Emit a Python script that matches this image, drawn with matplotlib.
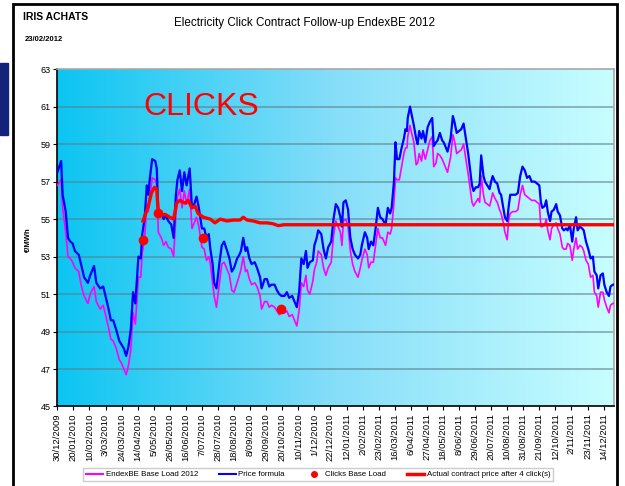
import numpy as np
import matplotlib
matplotlib.use("Agg")
import matplotlib.pyplot as plt
from matplotlib.colors import LinearSegmentedColormap
from matplotlib.lines import Line2D
from matplotlib.patches import Rectangle
from datetime import datetime

plt.rcParams['font.family'] = ['Liberation Sans', 'DejaVu Sans']

# days counted from 30/12/2009
start = np.datetime64('2009-12-30')

day_offsets = [
    0, 5, 7, 11, 14, 17, 20, 23, 28, 31, 35, 40, 43, 48, 51, 56, 60, 63, 67, 70,
    73, 77, 81, 84, 87, 90, 93, 96, 99, 102, 106, 109, 111, 114, 117, 119, 121, 124, 128, 130,
    132, 136, 139, 142, 145, 149, 152, 155, 157, 160, 163, 166, 169, 173, 176, 179, 182, 185,
    189, 192, 195, 198, 200, 203, 205, 208, 212, 215, 218, 222, 225, 228, 231, 235, 238, 240, 243, 246,
    248, 251, 254, 258, 261, 265, 267, 271, 274, 277, 280, 284, 287, 290, 293, 297, 300, 303, 307, 310,
    313, 316, 319, 322, 325, 327, 330, 334, 336, 339, 341, 345, 348, 351, 354, 358, 361, 364, 367,
    370, 372, 374, 377, 380, 383, 386, 389, 393, 396, 398, 402, 405, 407, 410, 413, 416, 419, 422, 425,
    429, 432, 435, 437, 440, 442, 444, 447, 450, 453, 455, 457, 458, 461, 463, 466, 469, 471, 473, 476,
    478, 481, 484, 487, 490, 492, 495, 497, 500, 503, 505, 508, 510, 514, 517, 519, 522, 525, 528, 531,
    534, 537, 539, 542, 544, 547, 550,
    552, 554, 557, 559, 562, 565, 567, 569, 572, 575, 578, 580, 583, 585, 588, 590, 592, 595, 599, 602,
    605, 608, 611, 614, 617, 620, 624, 627, 630, 632, 634, 637, 639, 641, 644, 646, 649, 652, 654, 657,
    660, 662, 665, 667, 670, 673, 675, 678, 680, 683, 686, 688, 691, 694, 697, 700, 702, 705, 707, 710,
    713, 715, 718, 721, 723, 726, 728,
]

price_formula = [
    57.5, 58.1, 56.3, 55.4, 54.0, 53.8, 53.7, 53.3, 53.1, 52.6, 51.9, 51.6, 52.0, 52.5, 51.6, 51.3, 51.4, 50.9, 50.2, 49.6,
    49.6, 49.1, 48.5, 48.3, 48.1, 47.7, 48.2, 49.1, 51.1, 50.5, 53.0, 52.9, 54.2, 55.0, 56.8, 56.3, 57.2, 58.2, 58.1, 57.7,
    55.3, 55.3, 55.0, 55.2, 54.9, 54.7, 54.0, 56.3, 57.1, 57.6, 56.5, 57.5, 56.8, 57.7, 55.6, 55.8, 56.2, 55.6,
    54.5, 54.5, 54.0, 54.2, 53.4, 52.6, 51.6, 51.3, 52.7, 53.6, 53.8, 53.3, 52.9, 52.2, 52.4, 52.9, 53.1, 53.3, 54.0, 53.3,
    53.5, 52.9, 52.6, 52.7, 52.4, 51.9, 51.3, 51.8, 51.8, 51.4, 51.5, 51.5, 51.2, 51.0, 50.9, 50.9, 51.1, 50.8, 50.9, 50.6,
    50.3, 51.1, 52.9, 52.6, 53.3, 52.4, 52.7, 52.8, 53.6, 54.0, 54.4, 54.2, 53.4, 52.9, 53.5, 53.8, 55.0, 55.8, 55.6,
    55.1, 54.6, 55.9, 56.0, 55.5, 54.0, 53.4, 53.1, 52.9, 53.1, 53.6, 54.3, 54.0, 53.4, 53.8, 53.6, 54.5, 55.6, 55.1, 55.0,
    54.7, 55.6, 55.3, 55.6, 57.0, 59.1, 58.2, 58.2, 58.8, 59.3, 59.8, 59.7, 60.4, 61.0, 60.6, 60.0, 59.3, 59.0, 59.7, 59.3,
    59.7, 59.1, 59.9, 60.2, 60.4, 58.9, 59.1, 59.2, 59.6, 59.2, 59.1, 58.8, 58.6, 59.3, 60.5, 60.2, 59.6, 59.7, 59.8, 60.1,
    59.3, 58.5, 57.8, 56.8, 56.5, 56.7, 56.7,
    56.9, 58.4, 57.3, 57.0, 56.8, 56.6, 57.0, 57.3, 57.0, 56.9, 56.4, 56.3, 55.6, 55.1, 54.9, 55.7, 56.3, 56.3, 56.3, 56.4,
    57.3, 57.8, 57.6, 57.2, 57.3, 57.0, 57.0, 56.9, 56.8, 55.9, 55.6, 55.7, 56.0, 55.4, 54.9, 55.4, 55.5, 55.8, 55.4, 55.2,
    54.5, 54.4, 54.5, 54.4, 54.7, 53.8, 54.5, 55.1, 54.4, 54.6, 54.5, 54.4, 53.8, 53.4, 52.9, 53.0, 52.2, 52.0, 51.3, 52.0,
    52.1, 51.5, 51.1, 50.9, 51.4, 51.5, 51.5,
]

endex_base = [
    56.8, 57.1, 55.6, 54.3, 53.0, 52.9, 52.7, 52.4, 52.2, 51.5, 50.9, 50.5, 51.0, 51.4, 50.6, 50.2, 50.4, 49.9, 49.2, 48.6,
    48.5, 48.1, 47.5, 47.3, 47.0, 46.7, 47.2, 48.0, 50.0, 49.4, 51.9, 51.9, 53.2, 54.0, 55.7, 55.4, 56.2, 57.2, 57.1, 56.8,
    54.3, 54.0, 53.6, 53.8, 53.5, 53.4, 53.0, 55.2, 56.2, 56.6, 55.6, 56.5, 55.8, 56.6, 54.5, 54.8, 55.1, 54.6,
    53.5, 53.4, 52.8, 53.0, 52.6, 51.6, 50.9, 50.3, 51.6, 52.6, 52.7, 52.3, 52.0, 51.2, 51.1, 51.6, 52.0, 52.3, 53.0, 52.2,
    52.3, 51.8, 51.5, 51.6, 51.4, 50.9, 50.2, 50.6, 50.6, 50.3, 50.4, 50.3, 50.1, 49.9, 50.0, 50.0, 50.1, 49.8, 49.9, 49.6,
    49.3, 50.1, 51.6, 51.4, 52.0, 51.2, 51.0, 51.7, 52.3, 52.7, 53.3, 53.1, 52.4, 52.0, 52.4, 52.7, 54.1, 54.9, 54.6,
    54.3, 53.6, 54.9, 55.0, 54.6, 53.3, 52.6, 52.2, 51.9, 52.4, 52.8, 53.4, 53.1, 52.4, 52.7, 52.7, 53.6, 54.5, 54.0, 54.0,
    53.6, 54.3, 54.2, 54.5, 55.9, 57.2, 57.1, 57.1, 57.8, 58.5, 58.8, 58.8, 59.4, 60.0, 59.6, 59.1, 57.9, 58.0, 58.5, 58.1,
    58.7, 58.2, 58.7, 59.2, 59.4, 57.8, 58.0, 58.5, 58.4, 58.2, 58.0, 57.7, 57.5, 58.3, 59.5, 59.2, 58.5, 58.6, 58.7, 59.0,
    58.2, 57.4, 56.8, 55.9, 55.7, 55.9, 56.1,
    55.9, 57.3, 56.3, 55.9, 55.8, 55.7, 56.0, 56.4, 56.1, 55.9, 55.5, 55.3, 54.8, 54.3, 53.9, 55.0, 55.3, 55.4, 55.4, 55.5,
    56.3, 56.8, 56.3, 56.2, 56.1, 56.0, 56.0, 55.9, 55.8, 54.6, 54.6, 54.7, 55.0, 54.4, 53.9, 54.5, 54.7, 54.8, 54.5, 54.2,
    53.5, 53.4, 53.4, 53.7, 53.6, 52.8, 53.4, 54.0, 53.4, 53.6, 53.5, 53.3, 52.8, 52.6, 51.9, 52.0, 51.1, 50.9, 50.3, 51.1,
    51.1, 50.7, 50.3, 50.0, 50.4, 50.5, 50.5,
]

contract_days = [112, 119, 123, 127, 130, 132, 134, 141, 147, 152, 156, 160, 167, 171, 176, 180, 184,
                 191, 200, 206, 213, 222, 230, 239, 243, 248, 256, 265, 274, 282, 289, 296, 728]
contract_price = [54.9, 55.7, 56.4, 56.7, 56.6, 55.3, 55.2, 55.25, 55.1, 55.0, 55.85, 56.0, 55.85, 56.0, 55.6, 55.7, 55.3,
                  55.1, 55.0, 54.8, 55.0, 54.9, 54.95, 54.95, 55.1, 54.95, 54.9, 54.8, 54.8, 54.75, 54.65, 54.7, 54.7]

click_days = [112, 132, 191, 293]
click_price = [53.9, 55.3, 54.0, 50.2]

tick_labels = ['30/12/2009', '20/01/2010', '10/02/2010', '3/03/2010', '24/03/2010', '14/04/2010',
               '5/05/2010', '26/05/2010', '16/06/2010', '7/07/2010', '28/07/2010', '18/08/2010',
               '8/09/2010', '29/09/2010', '20/10/2010', '10/11/2010', '1/12/2010', '22/12/2010',
               '12/01/2011', '2/02/2011', '23/02/2011', '16/03/2011', '6/04/2011', '27/04/2011',
               '18/05/2011', '8/06/2011', '29/06/2011', '20/07/2011', '10/08/2011', '31/08/2011',
               '21/09/2011', '12/10/2011', '2/11/2011', '23/11/2011', '14/12/2011']
y_ticks = [45, 47, 49, 51, 53, 55, 57, 59, 61, 63]

assert len(day_offsets) == len(price_formula) == len(endex_base)


def to_dates(days):
    return start + np.array(days).astype('timedelta64[D]')


fig = plt.figure(figsize=(6.25, 4.86), dpi=100)
ax = fig.add_axes([0.0917, 0.1636, 0.8912, 0.694])

# background gradient of the plot area
cmap = LinearSegmentedColormap.from_list('bg', ['#0cc5f2', '#86def9', '#c8feff'])
ax.imshow(np.linspace(0, 1, 256).reshape(1, -1), cmap=cmap, aspect='auto',
          extent=[0, 1, 0, 1], transform=ax.transAxes, zorder=0)

for y in y_ticks[1:-1]:
    ax.axhline(y, color='#5a7d8a', alpha=0.7, lw=1.1, zorder=1)

x = to_dates(day_offsets)
ax.plot(x, endex_base, color='#ff00ff', lw=1.2, zorder=3)
ax.plot(x, price_formula, color='#0000ff', lw=1.6, zorder=3)
ax.plot(to_dates(contract_days), contract_price, color='#ff0000', lw=2.4, zorder=4)
ax.plot(to_dates(click_days), click_price, 'o', color='#ff0000', ms=6, zorder=5)

ax.set_ylim(45, 63)
ax.set_yticks(y_ticks)
ax.set_xlim(start, start + np.timedelta64(728, 'D'))
tick_dates = [np.datetime64(datetime.strptime(t, '%d/%m/%Y').date()) for t in tick_labels]
ax.set_xticks(tick_dates)
ax.set_xticklabels(tick_labels, rotation=90, fontsize=6.8)
ax.tick_params(axis='y', labelsize=6.5, length=3, pad=2)
ax.tick_params(axis='x', length=3, pad=2)

for s in ['left', 'bottom']:
    ax.spines[s].set_color('black')
    ax.spines[s].set_linewidth(1.2)
for s in ['top', 'right']:
    ax.spines[s].set_color('#a8a8a8')
    ax.spines[s].set_linewidth(1.2)

ax.text(0.154, 0.864, 'CLICKS', transform=ax.transAxes, color='#ff0000',
        fontsize=23, ha='left', va='baseline', zorder=6)

fig.text(28 / 625, 1 - 240 / 486, '€/MWh', rotation=90, fontsize=5.5, fontweight='bold',
         ha='center', va='center')
fig.text(23 / 625, 1 - 17 / 486, 'IRIS ACHATS', fontsize=7.5, fontweight='bold', va='center')
fig.text(25 / 625, 1 - 39.5 / 486, '23/02/2012', fontsize=5.5, fontweight='bold', va='center')
fig.text(304 / 625, 1 - 23 / 486, 'Electricity Click Contract Follow-up EndexBE 2012',
         fontsize=8.4, ha='center', va='center')

handles = [Line2D([], [], color='#ff00ff', lw=1.5),
           Line2D([], [], color='#0000ff', lw=1.5),
           Line2D([], [], ls='', marker='o', color='#ff0000', ms=4),
           Line2D([], [], color='#ff0000', lw=2.5)]
labels = ['EndexBE Base Load 2012', 'Price formula', 'Clicks Base Load',
          'Actual contract price after 4 click(s)']
leg = fig.legend(handles, labels, loc='center', bbox_to_anchor=(318 / 625, 1 - 474.5 / 486),
                 ncol=4, fontsize=5.7, frameon=True, fancybox=False, edgecolor='#c0c0c0',
                 handlelength=2.2, columnspacing=2.6, borderpad=0.4, handletextpad=0.3)
leg.get_frame().set_linewidth(1.0)

# outer frame and slide tab
fig.patches.append(Rectangle((12.7 / 625, -0.01), (617 - 12.7) / 625, 1 - 4 / 486 + 0.01,
                             transform=fig.transFigure, fill=False, ec='black', lw=2))
fig.patches.append(Rectangle((0, 1 - 135 / 486), 8 / 625, 72 / 486,
                             transform=fig.transFigure, color='#14237a'))

fig.savefig('out.png', dpi=100)
